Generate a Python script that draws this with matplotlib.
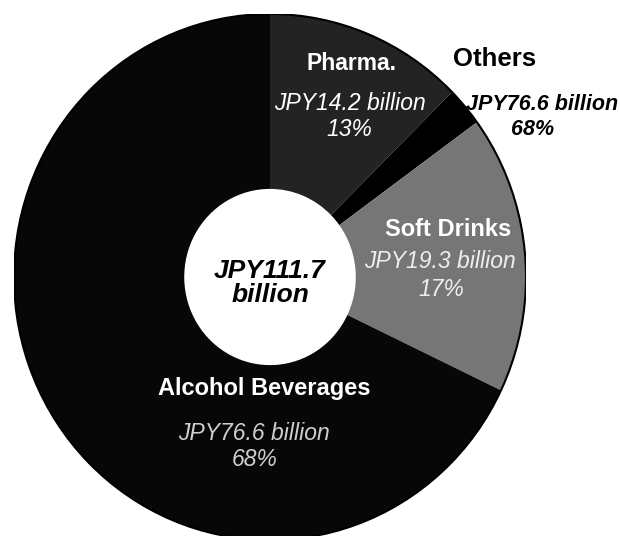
import matplotlib
matplotlib.use('Agg')
import matplotlib.pyplot as plt
from matplotlib.patches import Circle

plt.rcParams['font.family'] = ['Liberation Sans', 'DejaVu Sans']

# segments, clockwise from 12 o'clock
segments = ['Pharma.', 'Others', 'Soft Drinks', 'Alcohol Beverages']
values = [14.2, 2.7, 19.3, 76.6]          # JPY billion (Others)
colors = ['#232323', '#000000', '#767676', '#070707']
amounts = ['JPY14.2 billion', 'JPY76.6 billion', 'JPY19.3 billion', 'JPY76.6 billion']
shares = ['13%', '68%', '17%', '68%']
total_text = 'JPY111.7\nbillion'

W, H = 620, 536
fig = plt.figure(figsize=(W / 100, H / 100), dpi=100)
fig.patch.set_facecolor('white')

# slightly taller than wide, like the scanned original
cx, cy, rx, ry = 270, 277, 256, 263
ax = fig.add_axes([(cx - rx) / W, (H - cy - ry) / H, 2 * rx / W, 2 * ry / H])
ax.pie(values, colors=colors, startangle=90, counterclock=False, radius=1,
       wedgeprops=dict(width=0.665, linewidth=0))
ax.add_patch(Circle((0, 0), 1, fill=False, edgecolor='black', linewidth=1.5))
ax.set_aspect('auto')
ax.set_xlim(-1, 1)
ax.set_ylim(-1, 1)
ax.axis('off')


def put(x, y, s, **kw):
    fig.text(x / W, 1 - y / H, s, ha='center', va='center', **kw)


# Pharma.
put(352, 64, 'Pharma.', fontsize=16.5, fontweight='bold', color='white')
put(350, 103, amounts[0], fontsize=16.5, style='italic', color='white')
put(349, 130, shares[0], fontsize=16.5, style='italic', color='white')

# Others (outside the ring)
put(495, 59, 'Others', fontsize=18.5, fontweight='bold', color='black')
put(542, 104, amounts[1], fontsize=15.5, style='italic', fontweight='bold', color='black')
put(533, 129, shares[1], fontsize=15.5, style='italic', fontweight='bold', color='black')

# Soft Drinks
put(448, 229, 'Soft Drinks', fontsize=17, fontweight='bold', color='white')
put(440, 262, amounts[2], fontsize=16.5, style='italic', color='#eeeeee')
put(441, 289, shares[2], fontsize=16.5, style='italic', color='#eeeeee')

# Alcohol Beverages
put(264, 389, 'Alcohol Beverages', fontsize=17, fontweight='bold', color='white')
put(254, 434, amounts[3], fontsize=16.5, style='italic', color='#cfcfcf')
put(255, 460, shares[3], fontsize=16.5, style='italic', color='#cfcfcf')

# total in the hole
put(270, 283, total_text, fontsize=19, fontweight='bold', style='italic',
    color='black', linespacing=1.05)

fig.savefig('out.png', dpi=100, facecolor='white')
